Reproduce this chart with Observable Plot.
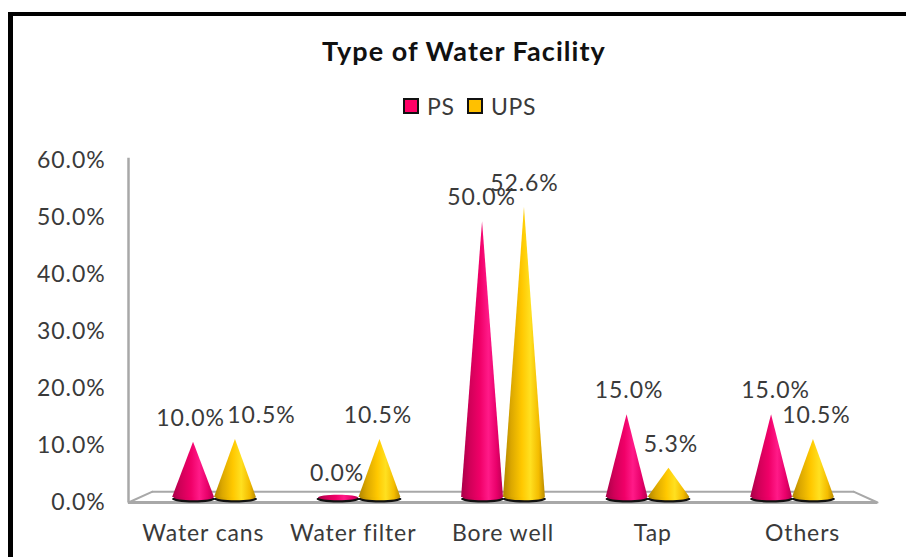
<!DOCTYPE html>
<html><head><meta charset="utf-8">
<script src="https://cdn.jsdelivr.net/npm/d3@7"></script>
<script src="https://cdn.jsdelivr.net/npm/@observablehq/plot@0.6"></script>
<style>
html,body{margin:0;background:#fff;overflow:hidden}
#wrap{position:relative;width:906px;height:557px;overflow:hidden;font-family:Lato,sans-serif;color:#3a3a3a}
#border{position:absolute;left:8px;top:12px;right:-10px;bottom:-10px;border:solid #000;border-width:4.5px 0 0 5px}
#title{position:absolute;left:322px;top:34px;font-size:27px;font-weight:700;color:#111;white-space:nowrap;letter-spacing:1.05px}
#legend{position:absolute;left:0;top:0;font-size:23px}
#legend i{position:absolute;top:98px;width:12px;height:12px;border:2.5px solid #111;box-sizing:content-box}
#legend span{position:absolute;top:92px;letter-spacing:.6px}
svg{position:absolute;left:0;top:0;overflow:visible;background:transparent}
svg text{letter-spacing:.9px}
</style></head><body>
<div id="wrap">
<div id="border"></div>
<div id="title">Type of Water Facility</div>
<div id="legend">
<i style="left:403px;background:#ff0066"></i><span style="left:427px">PS</span>
<i style="left:467px;background:#ffc000"></i><span style="left:491px">UPS</span>
</div>
</div>
<script>
const categories = ["Water cans", "Water filter", "Bore well", "Tap", "Others"];
const ps  = [10.0, 0.0, 50.0, 15.0, 15.0];
const ups = [10.5, 10.5, 52.6, 5.3, 10.5];
const yTicks = [0, 10, 20, 30, 40, 50, 60];

const fmt = v => v.toFixed(1) + "%";
const W = 906, H = 557;
const font = {fontFamily: "Lato, sans-serif", fontSize: 23, fill: "#3a3a3a"};
const gridGray = "#a8a8a8";

// Rear layer: the chart's front plane, with axes and floor
const back = Plot.plot({
  width: W, height: H, marginLeft: 128, marginRight: 29, marginTop: 160, marginBottom: 55,
  style: {background: "transparent"},
  x: {domain: [0, categories.length], axis: null},
  y: {domain: [0, 60], axis: null},
  marks: [
    Plot.line([[0.16,1.9],[4.84,1.9]], {stroke: gridGray, strokeWidth: 2}),
    Plot.line([[0,0],[0.16,1.9]], {stroke: gridGray, strokeWidth: 2}),
    Plot.line([[5,0],[4.84,1.9]], {stroke: gridGray, strokeWidth: 2}),
    Plot.ruleY([0], {stroke: gridGray, strokeWidth: 3}),
    Plot.ruleX([0], {y1: 0, y2: 60.4, stroke: gridGray, strokeWidth: 2.5}),
    Plot.text(yTicks, {x: 0, y: d => d, text: fmt, textAnchor: "end", dx: -23, ...font}),
    Plot.text(categories, {x: (d, i) => i + 0.5, y: -5.4, text: d => d, ...font})
  ]
});

// Front layer: cones on the mid-depth plane, which is slightly narrower
const series = [
  {key: "ps", values: ps, offset: -0.145, fill: "url(#coneps)"},
  {key: "ups", values: ups, offset: 0.145, fill: "url(#coneups)"}
];
const halfBase = 0.145;
const cones = series.flatMap(s => s.values.map((v, i) => ({
  s: s.key, i, v, cx: i + 0.5 + s.offset
})));
const conePoints = cones.filter(c => c.v > 0).flatMap(c => [
  {id: c.s + c.i, s: c.s, x: c.cx - halfBase, y: 0},
  {id: c.s + c.i, s: c.s, x: c.cx, y: c.v},
  {id: c.s + c.i, s: c.s, x: c.cx + halfBase, y: 0}
]);
const ellipse = (rx, ry) => ({draw(ctx) {
  const k = 0.5523;
  ctx.moveTo(-rx, 0);
  ctx.bezierCurveTo(-rx, -k*ry, -k*rx, -ry, 0, -ry);
  ctx.bezierCurveTo(k*rx, -ry, rx, -k*ry, rx, 0);
  ctx.bezierCurveTo(rx, k*ry, k*rx, ry, 0, ry);
  ctx.bezierCurveTo(-k*rx, ry, -rx, k*ry, -rx, 0);
  ctx.closePath();
}});
const nudge = [-3, 26, -1, -2, -1, 0, 2, 2, 4, 3];
const labelOrder = categories.flatMap((_, i) => [cones[i], cones[i + categories.length]]);

const front = Plot.plot({
  width: W, height: H, marginLeft: 141.75, marginRight: 41.75, marginTop: 166, marginBottom: 60,
  style: {background: "transparent"},
  x: {domain: [0, categories.length], axis: null},
  y: {domain: [0, 60], axis: null},
  marks: [
    Plot.dot(cones, {x: "cx", y: () => 0, dy: 1.5, symbol: ellipse(21.5, 3.5), fill: "#111", stroke: "none"}),
    ...series.map(s => Plot.dot(cones.filter(c => c.s === s.key), {x: "cx", y: () => 0, symbol: ellipse(20, 2.8), fill: s.fill, stroke: "none"})),
    ...series.map(s => Plot.area(conePoints.filter(p => p.s === s.key), {x1: "x", y1: () => 0, y2: "y", z: "id", fill: s.fill})),
    ...labelOrder.map((c, j) => Plot.text([c], {x: "cx", y: "v", text: d => fmt(d.v), dx: nudge[j], dy: -24, ...font}))
  ]
});

const defs = `<defs>
<linearGradient id="coneps" x1="0" x2="1" y1="0" y2="0">
<stop offset="0" stop-color="#a80048"/><stop offset=".2" stop-color="#d00058"/><stop offset=".45" stop-color="#f00068"/><stop offset=".65" stop-color="#ff1a88"/><stop offset=".85" stop-color="#e8006a"/><stop offset="1" stop-color="#b80050"/>
</linearGradient>
<linearGradient id="coneups" x1="0" x2="1" y1="0" y2="0">
<stop offset="0" stop-color="#b08400"/><stop offset=".2" stop-color="#dca800"/><stop offset=".45" stop-color="#ffc800"/><stop offset=".65" stop-color="#ffe020"/><stop offset=".85" stop-color="#f4bc00"/><stop offset="1" stop-color="#b88a00"/>
</linearGradient></defs>`;
front.insertAdjacentHTML("afterbegin", defs);

document.getElementById("wrap").append(back, front);
</script>
</body></html>
